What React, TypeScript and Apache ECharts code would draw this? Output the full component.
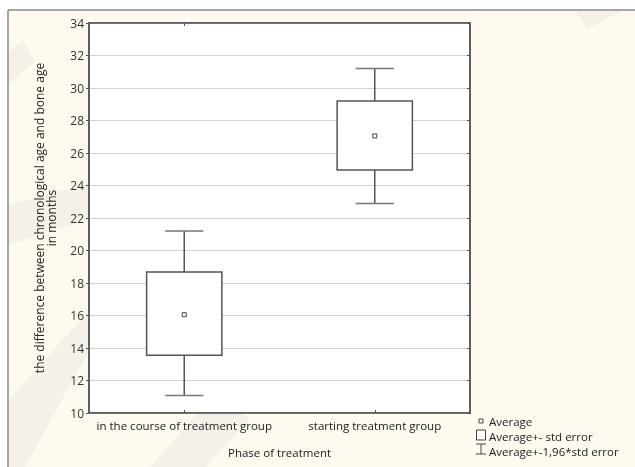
import React, { useEffect, useRef } from "react";
import * as echarts from "echarts";

const categories = ["in the course of treatment group", "starting treatment group"];
const means = [16.05, 27.05];
const stdErrLow = [13.55, 24.95];
const stdErrHigh = [18.68, 29.2];
const ciLow = [11.07, 22.9];
const ciHigh = [21.2, 31.2];

const yMin = 10;
const yMax = 34;
const yStep = 2;

const legendLabels = ["Average", "Average+- std error", "Average+-1,96*std error"];
const yName = "the difference between chronological age and bone age\nin months";
const xName = "Phase of treatment";

const FONT = "'Open Sans', 'Noto Sans', sans-serif";
const CREAM = "#FFFAF0";
const AXIS = "#555";

export default function App() {
  const ref = useRef<HTMLDivElement>(null);
  useEffect(() => {
    if (!ref.current) return;
    const chart = echarts.init(ref.current, null, { renderer: "svg" });
    const data = categories.map((_, i) => [i, ciLow[i], stdErrLow[i], means[i], stdErrHigh[i], ciHigh[i]]);

    const stripe = (pts: number[][]) => ({
      type: "polygon",
      silent: true,
      z: -5,
      shape: { points: pts },
      style: { fill: "rgba(200,200,200,0.18)" },
    });

    const legendX = 489;
    const legendY = [421, 436, 451];

    const option: any = {
      animation: false,
      textStyle: { fontFamily: FONT },
      graphic: [
        { type: "rect", z: -10, silent: true, shape: { x: 8, y: 10, width: 627, height: 457 }, style: { fill: CREAM } },
        stripe([[8, 52], [23, 40], [35, 62], [8, 84]]),
        stripe([[8, 205], [100, 180], [117, 210], [8, 245]]),
        stripe([[8, 400], [143, 252], [120, 295], [25, 467], [8, 467]]),
        stripe([[220, 388], [250, 420], [205, 467], [150, 467]]),
        stripe([[575, 11], [622, 11], [588, 29]]),
        { type: "line", silent: true, shape: { x1: 8, y1: 10, x2: 635, y2: 10 }, style: { stroke: "#8c8a82", lineWidth: 1.5 } },
        { type: "line", silent: true, shape: { x1: 8, y1: 10, x2: 8, y2: 467 }, style: { stroke: "#8c8a82", lineWidth: 1.5 } },
        // legend
        { type: "rect", shape: { x: 479, y: legendY[0] - 2, width: 4, height: 4 }, style: { fill: "#fff", stroke: "#444", lineWidth: 1 } },
        { type: "rect", shape: { x: 476.5, y: legendY[1] - 6, width: 9, height: 10 }, style: { fill: "#fff", stroke: "#444", lineWidth: 1 } },
        { type: "line", shape: { x1: 476, y1: legendY[2] - 7, x2: 486, y2: legendY[2] - 7 }, style: { stroke: "#444", lineWidth: 1 } },
        { type: "line", shape: { x1: 481, y1: legendY[2] - 7, x2: 481, y2: legendY[2] + 3 }, style: { stroke: "#444", lineWidth: 1 } },
        { type: "line", shape: { x1: 476, y1: legendY[2] + 3, x2: 486, y2: legendY[2] + 3 }, style: { stroke: "#444", lineWidth: 1 } },
        ...legendLabels.map((t, i) => ({
          type: "text",
          x: legendX,
          y: legendY[i],
          style: { text: t, fill: "#222", font: `11.5px ${FONT}`, verticalAlign: "middle" },
        })),
      ],
      grid: {
        left: 89,
        right: 165,
        top: 23,
        bottom: 54,
        show: true,
        backgroundColor: "#fff",
        borderColor: AXIS,
        borderWidth: 1.5,
      },
      xAxis: [
        {
          type: "category",
          data: categories,
          boundaryGap: true,
          position: "bottom",
          axisLine: { show: true, lineStyle: { color: AXIS, width: 1.5 } },
          axisTick: { show: true, alignWithLabel: true, inside: true, length: 3, lineStyle: { color: AXIS } },
          axisLabel: { color: "#222", fontSize: 11.5, margin: 6, interval: 0, fontFamily: FONT },
          splitLine: { show: false },
          name: xName,
          nameLocation: "middle",
          nameGap: 33,
          nameTextStyle: { color: "#222", fontSize: 11.5, fontFamily: FONT },
        },
        {
          type: "category",
          data: categories,
          boundaryGap: true,
          position: "top",
          axisLine: { show: true, lineStyle: { color: AXIS, width: 1.5 } },
          axisTick: { show: true, alignWithLabel: true, inside: true, length: 3, lineStyle: { color: AXIS } },
          axisLabel: { show: false },
          splitLine: { show: false },
        },
      ],
      yAxis: [
        {
          type: "value",
          min: yMin,
          max: yMax,
          interval: yStep,
          position: "left",
          axisLine: { show: true, lineStyle: { color: AXIS, width: 1.5 } },
          axisTick: { show: true, length: 3, lineStyle: { color: AXIS } },
          axisLabel: { color: "#333", fontSize: 12, margin: 5, fontFamily: FONT },
          splitLine: { show: true, lineStyle: { color: "#d2d2d2", width: 1 } },
          name: yName,
          nameLocation: "middle",
          nameGap: 32,
          nameTextStyle: { color: "#222", fontSize: 12, lineHeight: 12, fontFamily: FONT },
        },
        {
          type: "value",
          min: yMin,
          max: yMax,
          interval: yStep,
          position: "right",
          axisLine: { show: true, lineStyle: { color: AXIS, width: 1.5 } },
          axisTick: { show: true, inside: true, length: 3, lineStyle: { color: AXIS } },
          axisLabel: { show: false },
          splitLine: { show: false },
        },
      ],
      series: [
        {
          type: "custom",
          xAxisIndex: 0,
          yAxisIndex: 0,
          z: 5,
          data,
          renderItem: (params: any, api: any) => {
            const i = api.value(0);
            const band = api.size([1, 0])[0];
            const boxW = band * 0.395;
            const capW = band * 0.2;
            const pLow = api.coord([i, api.value(1)]);
            const pBL = api.coord([i, api.value(2)]);
            const pM = api.coord([i, api.value(3)]);
            const pBH = api.coord([i, api.value(4)]);
            const pHigh = api.coord([i, api.value(5)]);
            const cx = pM[0];
            const stroke = { stroke: "#555", lineWidth: 1.5 };
            return {
              type: "group",
              children: [
                { type: "line", shape: { x1: cx, y1: pBH[1], x2: cx, y2: pHigh[1] }, style: stroke },
                { type: "line", shape: { x1: cx, y1: pBL[1], x2: cx, y2: pLow[1] }, style: stroke },
                { type: "line", shape: { x1: cx - capW / 2, y1: pHigh[1], x2: cx + capW / 2, y2: pHigh[1] }, style: { stroke: "#777", lineWidth: 1.5 } },
                { type: "line", shape: { x1: cx - capW / 2, y1: pLow[1], x2: cx + capW / 2, y2: pLow[1] }, style: { stroke: "#777", lineWidth: 1.5 } },
                {
                  type: "rect",
                  shape: { x: cx - boxW / 2, y: pBH[1], width: boxW, height: pBL[1] - pBH[1] },
                  style: { fill: "#fff", stroke: "#555", lineWidth: 1.5 },
                },
                {
                  type: "rect",
                  shape: { x: cx - 2, y: pM[1] - 2, width: 4, height: 4 },
                  style: { fill: "#fff", stroke: "#444", lineWidth: 1 },
                },
              ],
            };
          },
        },
      ],
    };
    chart.setOption(option);
    return () => chart.dispose();
  }, []);
  return <div ref={ref} style={{ position: "fixed", left: 0, top: 0, width: 635, height: 467 }} />;
}
